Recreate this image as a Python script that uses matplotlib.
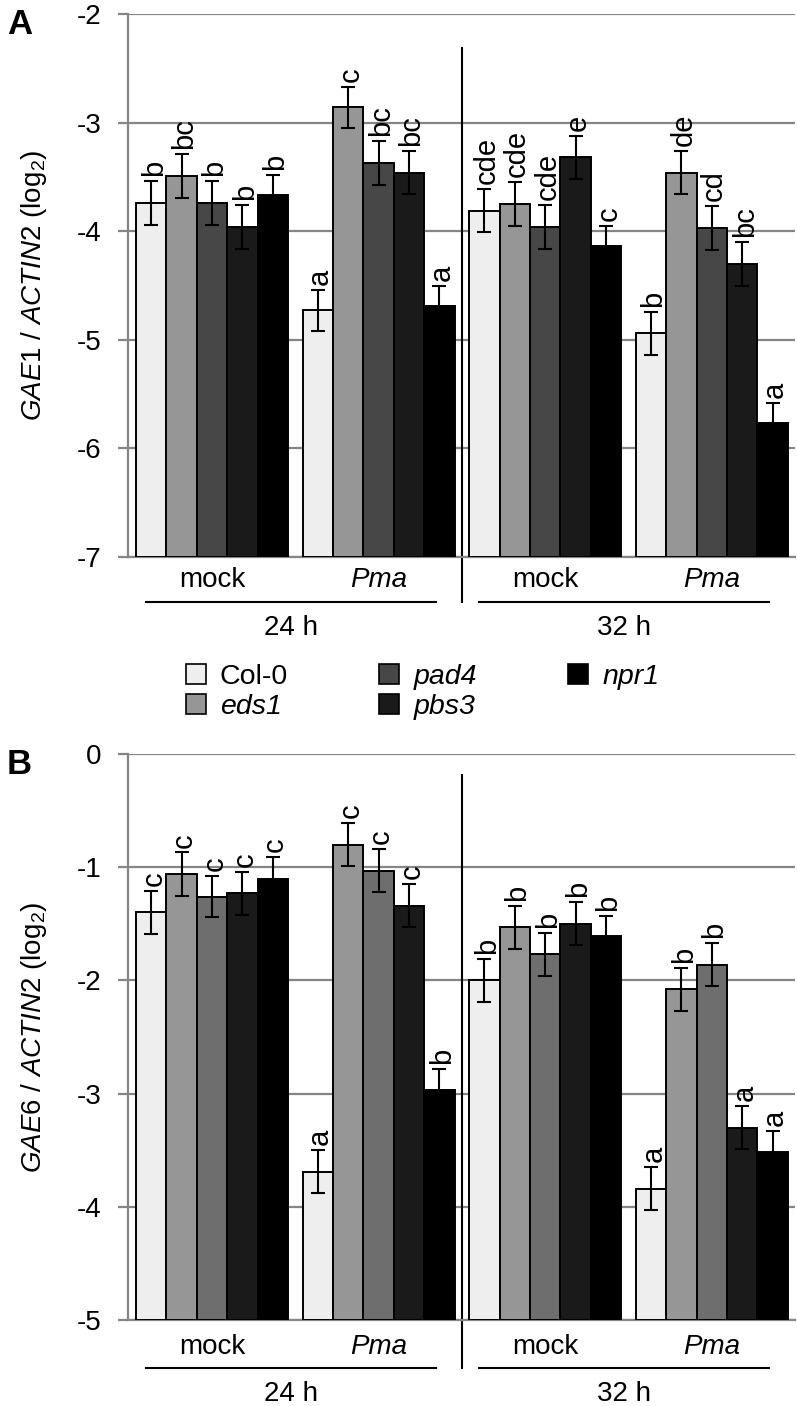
import matplotlib.pyplot as plt
import matplotlib.transforms as mtransforms
from matplotlib.patches import Patch

plt.rcParams['font.family'] = ['Liberation Sans', 'DejaVu Sans']
plt.rcParams['axes.unicode_minus'] = False
plt.rcParams['mathtext.fontset'] = 'custom'
plt.rcParams['mathtext.rm'] = 'Liberation Sans'
plt.rcParams['mathtext.it'] = 'Liberation Sans:italic'

genotypes = ['Col-0', 'eds1', 'pad4', 'pbs3', 'npr1']
treatments = ['mock', 'Pma', 'mock', 'Pma']
times = ['24 h', '32 h']

# GAE1 / ACTIN2, one row per group (mock 24h, Pma 24h, mock 32h, Pma 32h)
gae1_mean = [[-3.74, -3.49, -3.74, -3.96, -3.67],
             [-4.73, -2.86, -3.37, -3.46, -4.69],
             [-3.81, -3.75, -3.96, -3.32, -4.14],
             [-4.94, -3.46, -3.97, -4.30, -5.77]]
gae1_err = [[0.20, 0.20, 0.20, 0.20, 0.19],
            [0.19, 0.19, 0.20, 0.20, 0.19],
            [0.20, 0.20, 0.20, 0.20, 0.19],
            [0.20, 0.20, 0.20, 0.20, 0.19]]
gae1_letters = [['b', 'bc', 'b', 'b', 'b'],
                ['a', 'c', 'bc', 'bc', 'a'],
                ['cde', 'cde', 'cde', 'e', 'c'],
                ['b', 'de', 'cd', 'bc', 'a']]

# GAE6 / ACTIN2
gae6_mean = [[-1.40, -1.06, -1.26, -1.23, -1.10],
             [-3.69, -0.80, -1.03, -1.34, -2.97],
             [-2.00, -1.53, -1.77, -1.50, -1.61],
             [-3.84, -2.08, -1.86, -3.30, -3.52]]
gae6_err = [[0.19, 0.19, 0.18, 0.19, 0.19],
            [0.19, 0.19, 0.19, 0.19, 0.19],
            [0.19, 0.19, 0.19, 0.19, 0.18],
            [0.19, 0.19, 0.19, 0.19, 0.19]]
gae6_letters = [['c', 'c', 'c', 'c', 'c'],
                ['a', 'c', 'c', 'c', 'b'],
                ['b', 'b', 'b', 'b', 'b'],
                ['a', 'b', 'b', 'a', 'a']]

colors_a = ['#eeeeee', '#969696', '#474747', '#1a1a1a', '#000000']
colors_b = ['#eeeeee', '#969696', '#6e6e6e', '#1a1a1a', '#000000']

W, H = 797, 1406
fig = plt.figure(figsize=(W / 100, H / 100), dpi=100)

step = 5.48
xlim = (-0.26, 21.68)
grid_c = '#858585'


def make_panel(top, bottom, means, errs, letters, colors, ylim, ylabel, tag, sep_top, text_y):
    ax = fig.add_axes([128 / W, 1 - bottom / H, (795 - 128) / W, (bottom - top) / H])
    ymin, ymax = ylim
    for g in range(4):
        for j in range(5):
            x = g * step + j + 0.5
            v = means[g][j]
            ax.bar(x, v - ymin, bottom=ymin, width=1.0, color=colors[j],
                   edgecolor='black', linewidth=1.4, zorder=3)
            ax.errorbar(x, v, yerr=errs[g][j], fmt='none', ecolor='black',
                        elinewidth=1.5, capsize=4.7, capthick=1.5, zorder=4)
            ax.annotate(letters[g][j], (x, v + errs[g][j]), xytext=(1.8, 3.5),
                        textcoords='offset points', rotation=90, ha='center',
                        va='bottom', fontsize=21, zorder=5)
    ax.set_xlim(*xlim)
    ax.set_ylim(ymin, ymax)
    ax.set_yticks(range(int(ymin), int(ymax) + 1))
    ax.set_xticks([])
    ax.yaxis.grid(True, color=grid_c, linewidth=1.6, zorder=0)
    ax.set_axisbelow(True)
    for s in ['top', 'right']:
        ax.spines[s].set_visible(False)
    for s in ['left', 'bottom']:
        ax.spines[s].set_color(grid_c)
        ax.spines[s].set_linewidth(1.6)
    ax.tick_params(axis='y', length=7, width=1.6, color=grid_c, labelsize=20, pad=12)
    ax.set_ylabel(ylabel, fontsize=20)
    ax.yaxis.set_label_coords(-0.118, 0.5)

    h = bottom - top

    def fy(ypx):
        return (bottom - ypx) / h

    trans = mtransforms.blended_transform_factory(ax.transData, ax.transAxes)
    xsep = 2 * step - 0.24
    ax.plot([xsep, xsep], [fy(sep_top), fy(text_y[1])], color='black',
            linewidth=1.5, transform=trans, clip_on=False)
    for g in range(4):
        style = 'italic' if treatments[g] == 'Pma' else 'normal'
        ax.text(g * step + 2.5, fy(text_y[0]), treatments[g], transform=trans,
                ha='center', va='center', fontsize=20, style=style)
    for t in range(2):
        x0 = 2 * t * step + 0.33
        x1 = 2 * t * step + step + 5 - 0.6
        ax.plot([x0, x1], [fy(text_y[1]), fy(text_y[1])], color='black',
                linewidth=1.5, transform=trans, clip_on=False)
        ax.text((x0 + x1) / 2, fy(text_y[2]), times[t], transform=trans,
                ha='center', va='center', fontsize=20)
    fig.text(7 / W, 1 - (top + 11) / H, tag, fontsize=25, fontweight='bold',
             ha='left', va='center')
    return ax


make_panel(14, 557, gae1_mean, gae1_err, gae1_letters, colors_a, (-7, -2),
           r'$\it{GAE1}$ / $\it{ACTIN2}$ (log$_2$)', 'A', 48, (580, 602, 628))
make_panel(754, 1320, gae6_mean, gae6_err, gae6_letters, colors_b, (-5, 0),
           r'$\it{GAE6}$ / $\it{ACTIN2}$ (log$_2$)', 'B', 775, (1347, 1368, 1394))

handles = [Patch(facecolor=c, edgecolor='black', linewidth=1.2) for c in colors_a]
leg = fig.legend(handles, genotypes, ncol=3, loc='center',
                 bbox_to_anchor=(0.53, 1 - 692 / H), frameon=False,
                 fontsize=20.5, handlelength=0.7, handleheight=0.7,
                 handletextpad=0.5, columnspacing=3.2, labelspacing=0.12)
for t in leg.get_texts()[1:]:
    t.set_fontstyle('italic')

fig.savefig('out.png', dpi=100)
